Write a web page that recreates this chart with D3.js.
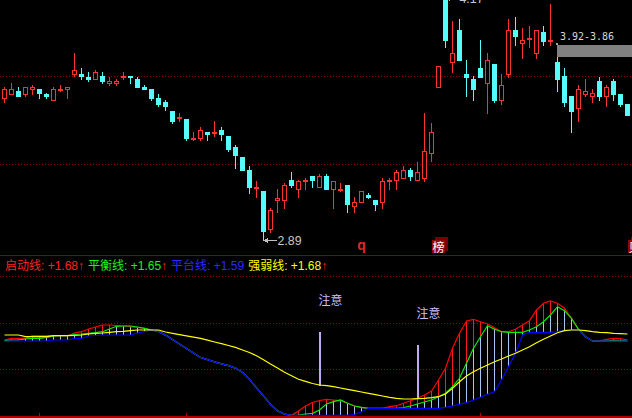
<!DOCTYPE html>
<html><head><meta charset="utf-8">
<script src="https://cdn.jsdelivr.net/npm/d3@7"></script>
<style>html,body{margin:0;padding:0;background:#000;overflow:hidden}svg{display:block}</style>
</head><body><svg id="c" width="632" height="418"></svg>
<script>
// ---- price data (one value per trading day) ----
const opens = [3.64,3.66,3.68,3.66,3.69,3.69,3.66,3.63,3.69,3.69, 3.77,3.77,3.75,3.74,3.76,3.72,3.72,3.75,3.76,3.74,
  3.70,3.69,3.64,3.62,3.57,3.54,3.53,3.43,3.43,3.46, 3.46,3.47,3.44,3.38,3.33,3.26,3.17,3.15,2.95,3.10,
  3.10,3.21,3.16,3.20,3.23,3.17,3.23,3.16,3.16,3.18, 3.07,3.09,3.13,3.10,3.09,3.20,3.21,3.22,3.26,3.21,
  3.22,3.35,3.70,4.16,3.83,4.00,3.77,3.74,3.80,3.72, 3.82,3.63,3.77,4.00,3.93,3.96,3.88,3.99,3.95,3.83,
  3.76,3.65,3.59,3.66,3.65,3.73,3.65,3.73,3.66,3.61];
const closes = [3.69,3.69,3.65,3.70,3.70,3.67,3.65,3.69,3.69,3.70, 3.79,3.76,3.74,3.78,3.73,3.73,3.73,3.76,3.75,3.70,
  3.69,3.64,3.61,3.60,3.52,3.54,3.43,3.43,3.47,3.45, 3.46,3.45,3.37,3.34,3.26,3.17,3.17,2.94,3.05,3.11,
  3.18,3.18,3.20,3.21,3.21,3.23,3.16,3.20,3.16,3.08, 3.09,3.15,3.12,3.08,3.20,3.21,3.25,3.26,3.23,3.25,
  3.36,3.46,3.81,3.95,3.88,3.84,3.75,3.69,3.75,3.84, 3.63,3.71,4.00,3.97,3.95,3.96,4.00,3.94,3.95,3.74,
  3.62,3.57,3.69,3.68,3.67,3.65,3.70,3.66,3.61,3.55];
const highs = [3.70,3.72,3.70,3.70,3.71,3.69,3.67,3.70,3.71,3.70, 3.88,3.80,3.78,3.79,3.78,3.75,3.74,3.78,3.76,3.75,
  3.71,3.69,3.66,3.63,3.57,3.56,3.53,3.46,3.49,3.46, 3.52,3.49,3.44,3.39,3.33,3.28,3.20,3.15,3.06,3.16,
  3.19,3.25,3.21,3.22,3.23,3.24,3.24,3.20,3.19,3.18, 3.12,3.15,3.14,3.10,3.22,3.22,3.26,3.28,3.27,3.30,
  3.56,3.51,3.81,4.17,4.05,4.06,3.84,3.76,3.95,3.88, 3.82,3.77,4.06,4.07,4.01,4.02,4.00,4.02,4.14,3.86,
  3.80,3.65,3.71,3.74,3.69,3.75,3.71,3.74,3.66,3.61];
const lows = [3.62,3.66,3.65,3.65,3.66,3.64,3.64,3.63,3.68,3.64, 3.76,3.74,3.73,3.74,3.72,3.71,3.71,3.74,3.72,3.70,
  3.69,3.63,3.60,3.58,3.51,3.52,3.42,3.42,3.42,3.42, 3.44,3.42,3.36,3.27,3.26,3.14,3.12,2.89,2.93,3.04,
  3.06,3.17,3.12,3.16,3.17,3.17,3.16,3.06,3.15,3.04, 3.04,3.09,3.11,3.05,3.06,3.16,3.16,3.22,3.21,3.21,
  3.20,3.31,3.70,3.91,3.78,3.84,3.65,3.63,3.75,3.56, 3.62,3.61,3.75,3.92,3.85,3.91,3.85,3.92,3.92,3.68,
  3.60,3.46,3.52,3.65,3.62,3.63,3.60,3.63,3.60,3.55];
const priceGrid = [3.76, 3.29];

// ---- indicator panel (panel units 0..140) ----
const qidong = [76,77.7,77.7,77.7,80.3,80.3,80.3,80.3,80.3,80.3, 83,84.3,87,89,91,91,90.5,90,89.3,88.5,
  87.7,86,84.6,80.9,76.4,71.9,67.4,62.9,58.6,56.4, 54.1,52.2,50.4,47.9,43.6,36.6,28.2,20.2,11.6,5.3,
  1.9,0.7,5,10,13.5,15.5,16.7,16,15.3,12.7, 10,8.7,7.7,7.7,7.7,9.3,10.3,12.7,15.3,17.7,
  21,25,36,47.7,67.7,82.7,95,96.7,94.3,92, 88.3,84.3,84.3,86.7,91,95.3,106,112.7,115,112.7,
  107.7,97.7,86.7,79.3,75,75,76.7,77.7,77.3,76];
const pingheng = [75.3,76,76,77,77.7,77.7,78.5,80,80.3,80.3, 81.5,82,82.7,83.3,84.3,87,89.7,90,90,89,
  87.7,86,84.6,80.9,76.4,71.9,67.4,62.9,58.6,56.4, 54.1,52.2,50.4,47.9,43.6,36.6,28.2,20.2,11.6,5.3,
  1.9,0.7,1,2,2.7,6,12,14.3,16,12.7, 10,8.7,7.7,7.7,7.7,7.7,7.7,8.3,10,12,
  14,16,19.3,22.7,29.3,37.7,52.7,67.7,79.3,90.3, 86.7,84.3,83.7,83.7,83.7,86,89.3,94.3,101,109.3,
  105.3,97.7,86.7,79.3,75,75,75,75.7,75.3,75];
const pingtai = [75,75,75,75,75,75,75,76,76,76, 77.7,77.7,80,80.5,81,81,81,81,81,83,
  84.3,86,84.6,80.9,76.4,71.9,67.4,62.9,58.6,56.4, 54.1,52.2,50.4,47.9,43.6,36.6,28.2,20.2,11.6,5.3,
  1.9,0.7,0.7,0.7,0.7,0.7,0.7,0.7,0.7,0.7, 1.5,4.3,7.7,7.7,7.7,7.7,7.7,7.7,7.7,7.7,
  7.7,7.7,7.7,8.7,10,11.7,13.3,16,18.7,21.7, 24.3,36,49.3,62.7,81,83.7,83.7,83.7,83.7,84.3,
  85.3,86,86,79.3,75,75,75,75,75,75];
const qiangruo = [81,81,81,79.3,79.3,79.3,79.3,80.3,80.3,80.3, 80.5,81,82,82.7,83,83.7,84.3,84.7,85.3,86,
  86,86,86,84,82.7,81.4,80.2,78.9,77.6,75.8, 74,72.3,70.5,68.6,66,63.5,60.3,56.2,52.1,47.9,
  43.8,40.3,36.8,34.6,32.5,31,30.3,29.3,28,26.7, 25.3,24,22.7,21.3,20,18.7,17.7,17,17,17.3,
  17.7,18.3,19.3,22,27.7,34.3,40,44.3,47.7,51, 54.3,57,60,62.7,66,69.3,73.3,76.7,80,83.3,
  85.3,86,86,85.3,84.3,83.7,83.3,82.7,82.3,82];
const indGrid = [46.67, 93.33, 140];
const alertIdx = [45, 59];
const alertText = "注意";
const legendNames = ["启动线","平衡线","平台线","强弱线"];
const legendValues = ["+1.68","+1.65","+1.59","+1.68"];
const legendArrows = ["↑","↑","","↑"];
const markerIdx = [51, 62, 90];
const markerText = ["q","榜","贝"];
const tickIdx = [5, 26, 68];
const gapStart = 79;

// ---- drawing ----
const W = 632, H = 418;
const RED = "#ff3232", CYAN = "#54fcfc";
const LAT = "Liberation Sans, Arial, sans-serif", CJK = "Noto Sans CJK SC, sans-serif";
const svg = d3.select("#c").attr("shape-rendering","crispEdges");
svg.append("rect").attr("width",W).attr("height",H).attr("fill","#000");

const x = d3.scaleLinear().domain([0, 89]).range([4, 627]);
const y = d3.scaleLinear().domain([4.17, 2.89]).range([-2, 240]);
const yi = d3.scaleLinear().domain([0, 140]).range([416, 276]);
const px = i => Math.round(x(i));

// grid lines
const dotted = (yy) => svg.append("line").attr("x1",0).attr("x2",W)
  .attr("y1",Math.round(yy)+0.5).attr("y2",Math.round(yy)+0.5)
  .attr("stroke","#8b0000").attr("stroke-dasharray","1,2");
priceGrid.forEach(p => dotted(y(p)));
indGrid.forEach(v => dotted(yi(v)));

// separator and bottom line
svg.append("line").attr("x1",0).attr("x2",W).attr("y1",255.5).attr("y2",255.5).attr("stroke","#8b0000");
svg.append("rect").attr("x",0).attr("y",Math.round(yi(0))).attr("width",W).attr("height",1.5).attr("fill","#b00000");
tickIdx.forEach(i => svg.append("line").attr("x1",px(i)+0.5).attr("x2",px(i)+0.5)
  .attr("y1",yi(0)-3).attr("y2",yi(0)).attr("stroke","#b00000"));

// gap zone
const gTop = lows[gapStart-1], gBot = highs[gapStart];
svg.append("rect").attr("x",px(gapStart)).attr("y",Math.round(y(gTop)))
  .attr("width",W-px(gapStart)).attr("height",Math.round(y(gBot))-Math.round(y(gTop)))
  .attr("fill","#808080");
svg.append("rect").attr("x",px(gapStart)-1).attr("y",Math.round(y(gTop))-2).attr("width",2).attr("height",2).attr("fill","#a0a0a0");
svg.append("text").attr("x",px(gapStart)+3).attr("y",Math.round(y(gTop))-5)
  .attr("fill","#d8d8d8").attr("font-family","DejaVu Sans Mono, monospace").attr("font-size",11)
  .attr("textLength",54).attr("lengthAdjust","spacingAndGlyphs")
  .text(gTop.toFixed(2)+"-"+gBot.toFixed(2));

// candles
const cg = svg.append("g");
opens.forEach((o,i) => {
  const c = closes[i], h = highs[i], l = lows[i];
  const up = c >= o;
  const col = up ? RED : CYAN;
  const cx = px(i);
  const yt = Math.round(y(Math.max(o,c))), yb = Math.round(y(Math.min(o,c)));
  const yh = Math.round(y(h)), yl = Math.round(y(l));
  if (up) {
    if (yh < yt) cg.append("line").attr("x1",cx+0.5).attr("x2",cx+0.5).attr("y1",yh).attr("y2",yt).attr("stroke",col);
    if (yl > yb) cg.append("line").attr("x1",cx+0.5).attr("x2",cx+0.5).attr("y1",yb+1).attr("y2",yl+1).attr("stroke",col);
    cg.append("rect").attr("x",cx-2+0.5).attr("y",yt+0.5).attr("width",4).attr("height",Math.max(yb-yt,1))
      .attr("fill","#000").attr("stroke",col);
  } else {
    cg.append("line").attr("x1",cx+0.5).attr("x2",cx+0.5).attr("y1",yh).attr("y2",yl+1).attr("stroke",col);
    cg.append("rect").attr("x",cx-2).attr("y",yt).attr("width",5).attr("height",Math.max(yb-yt+1,2)).attr("fill",col);
  }
});

// extreme labels
function extremeLabel(i, v) {
  const yy = Math.round(y(v)) + 0.5, xx = px(i) + 0.5;
  svg.append("line").attr("x1",xx).attr("x2",xx+13).attr("y1",yy).attr("y2",yy).attr("stroke","#c0c0c0");
  svg.append("path").attr("d",`M${xx},${yy}L${xx+4},${yy-2.5}L${xx+4},${yy+2.5}Z`).attr("fill","#c0c0c0");
  svg.append("text").attr("x",xx+14).attr("y",yy+4.5).attr("fill","#c8c8c8")
    .attr("font-family",LAT).attr("font-size",13)
    .attr("textLength",24).attr("lengthAdjust","spacingAndGlyphs").text(v.toFixed(2));
}
const iMin = d3.minIndex(lows), iMax = d3.maxIndex(highs);
extremeLabel(iMin, lows[iMin]);
extremeLabel(iMax, highs[iMax]);

// markers
markerText.forEach((t,k) => {
  const cx = px(markerIdx[k]) + 0.5;
  if (t === "q") {
    svg.append("text").attr("x",cx).attr("y",250).attr("text-anchor","middle").attr("fill","#e02828")
      .attr("font-family",LAT).attr("font-weight","bold").attr("font-size",14).text(t);
  } else {
    svg.append("rect").attr("x",cx-3.5).attr("y",237).attr("width",13).attr("height",14).attr("fill","#7a0000");
    svg.append("rect").attr("x",cx-6.5).attr("y",240).attr("width",13).attr("height",13).attr("fill","#8b0a0a");
    svg.append("text").attr("x",cx).attr("y",251.5).attr("text-anchor","middle").attr("fill","#ffffff")
      .attr("font-family",CJK).attr("font-size",12).text(t);
  }
});

// legend
const lcol = ["#ff2020","#22ee22","#2a2aff","#ffff00"];
let lx = 5;
legendNames.forEach((n,k) => {
  const t = svg.append("text").attr("x",lx).attr("y",270).attr("font-size",12).attr("font-family",LAT);
  t.append("tspan").attr("fill",lcol[k]).attr("font-family",CJK).text(n);
  t.append("tspan").attr("fill",lcol[k]).text(": " + legendValues[k]);
  if (legendArrows[k]) t.append("tspan").attr("fill","#ff2020").text(legendArrows[k]);
  lx += t.node().getComputedTextLength() + 4;
});

// indicator verticals
const vg = svg.append("g");
qidong.forEach((r,i) => {
  const g = pingheng[i], b = pingtai[i], xx = px(i) + 0.5;
  if (yi(r) < yi(g) - 1) vg.append("line").attr("x1",xx).attr("x2",xx).attr("y1",yi(r)).attr("y2",yi(g)).attr("stroke","#ff1a1a");
  if (yi(g) < yi(b) - 1) vg.append("line").attr("x1",xx).attr("x2",xx).attr("y1",yi(g)).attr("y2",yi(b)).attr("stroke","#a8c4f0");
});

// indicator lines
const mk = (arr,col) => svg.append("path")
  .attr("d", d3.line().x((v,i)=>px(i)+0.5).y(v=>yi(v))(arr))
  .attr("fill","none").attr("stroke",col).attr("stroke-width",1.2).attr("shape-rendering","auto");
mk(qidong, "#ff0000");
mk(pingheng, "#00ee00");
mk(pingtai, "#0000ff");

// alert bars
alertIdx.forEach(i => {
  const base = yi(qiangruo[i]);
  svg.append("rect").attr("x",px(i)-0.5).attr("y",Math.round(base-53.5)).attr("width",2)
    .attr("height",Math.round(53.5)).attr("fill","#c0a8f4");
  svg.append("text").attr("x",px(i)-0.5).attr("y",Math.round(base-53.5)-27).attr("fill","#cdbfff")
    .attr("font-family",CJK).attr("font-size",12).text(alertText);
});
mk(qiangruo, "#ffff00");
</script></body></html>
